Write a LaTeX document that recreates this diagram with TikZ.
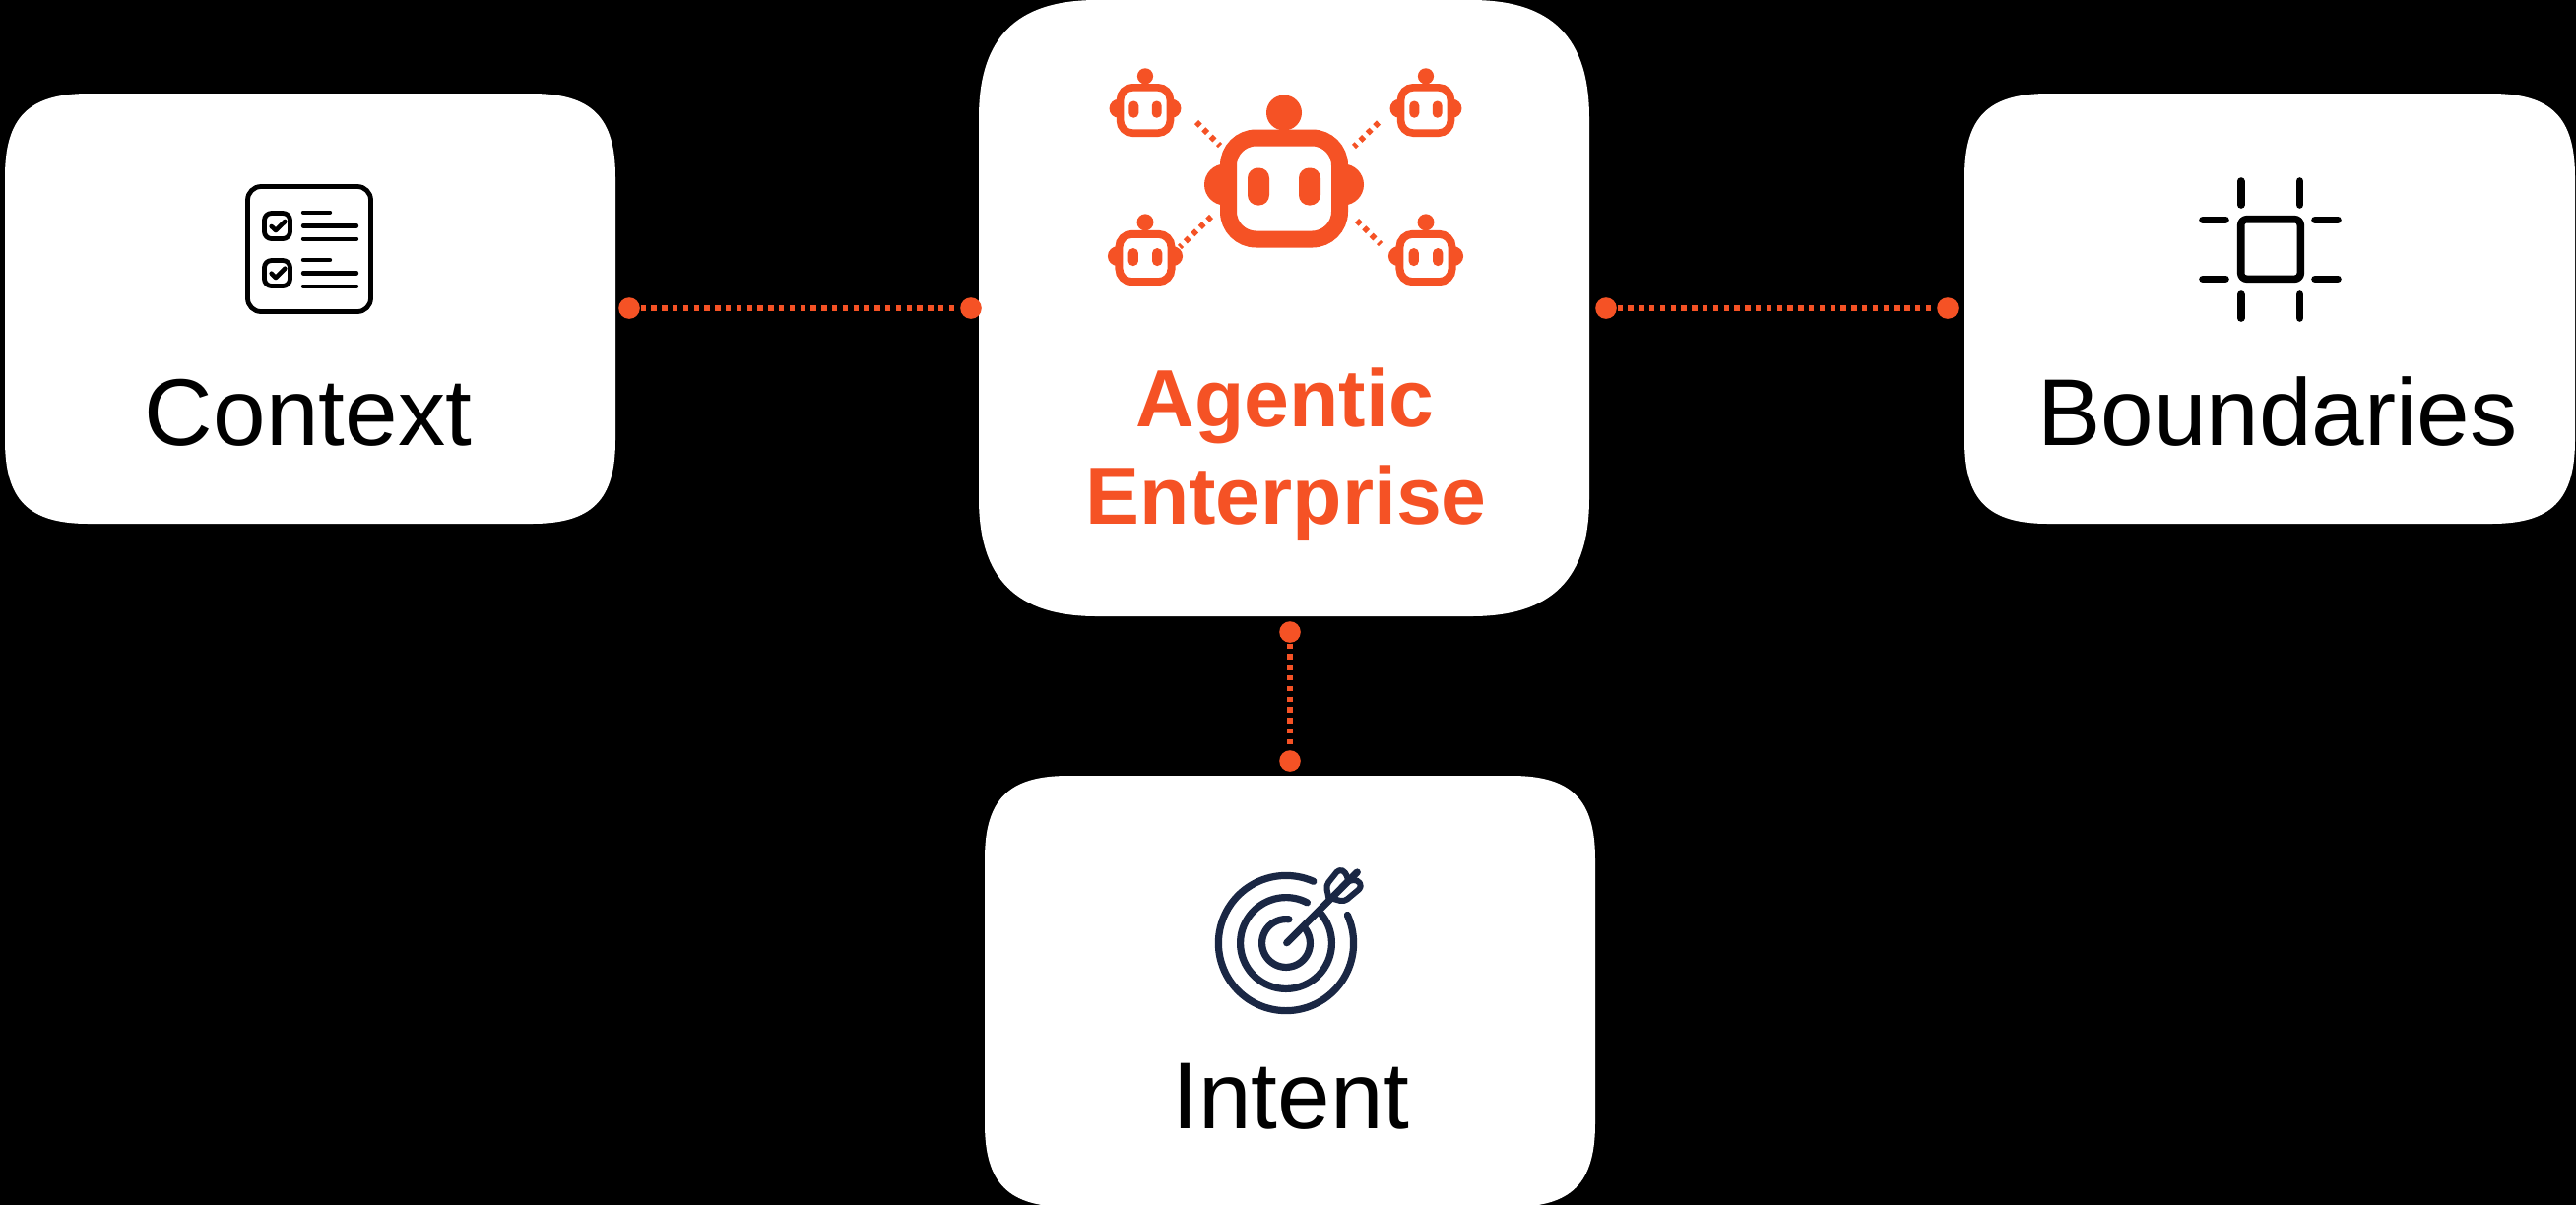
\documentclass[tikz,border=0pt]{standalone}
\usepackage{fontspec}
\setmainfont{Liberation Sans}
\definecolor{accent}{HTML}{F55225}
\definecolor{navy}{HTML}{1A2744}
\newcommand{\cardshape}[6]{%
  \fill[white] (#1,{#2+#5}) .. controls (#1,{#2+#6}) and ({#1+#6},#2) .. ({#1+#5},#2)
    -- ({#3-#5},#2) .. controls ({#3-#6},#2) and (#3,{#2+#6}) .. (#3,{#2+#5})
    -- (#3,{#4-#5}) .. controls (#3,{#4-#6}) and ({#3-#6},#4) .. ({#3-#5},#4)
    -- ({#1+#5},#4) .. controls ({#1+#6},#4) and (#1,{#4-#6}) .. (#1,{#4-#5}) -- cycle;}
\newcommand{\robotfig}[3]{%
  \pgfmathsetmacro{\rlw}{4.25*#3}%
  \pgfmathsetmacro{\rrc}{7*#3}%
  \pgfmathsetmacro{\rec}{2.6*#3}%
  \begin{scope}[shift={(#1,#2)},scale=#3]
    \fill[accent] (-60,-4) circle[radius=21];
    \fill[accent] (60,-4) circle[radius=21];
    \fill[accent] (0,-77) circle[radius=18];
    \draw[accent,fill=white,line width=\rlw pt,rounded corners=\rrc pt] (-56.5,-51.5) rectangle (56.5,51.5);
    \fill[accent,rounded corners=\rec pt] (-37,-21) rectangle (-15,17);
    \fill[accent,rounded corners=\rec pt] (15,-21) rectangle (37,17);
  \end{scope}}
\tikzset{
  x=0.25pt,y=-0.25pt,
  dotnode/.style={circle,fill=accent,inner sep=0pt,minimum size=5.4pt},
  link/.style={accent,line width=1.45pt,dash pattern=on 1.35pt off 1.35pt},
  minilink/.style={accent,line width=1.45pt,dash pattern=on 1.3pt off 1.3pt},
  plainlabel/.style={anchor=base,inner sep=0pt,text=black,font=\fontsize{24.1}{28}\selectfont},
  boldlabel/.style={anchor=base,inner sep=0pt,text=accent,font=\fontsize{20.6}{24}\selectfont\bfseries},
  ink/.style={black,line width=#1,line cap=round,line join=round},
  target/.style={navy,line width=1.8pt,line cap=round,line join=round}
}
\begin{document}
\begin{tikzpicture}
\useasboundingbox (0,0) rectangle (2616,1224);
\fill[black] (0,0) rectangle (2616,1224);
% cards
\cardshape{5}{95}{625}{532}{85}{24}
\cardshape{994}{0}{1614}{626}{120}{38}
\cardshape{1995}{95}{2615}{532}{85}{24}
\cardshape{1000}{788}{1620}{1226}{85}{24}
% labels
\node[plainlabel] (ctx) at (313,452) {Context};
\node[plainlabel] (bnd) at (2313,452) {Boundaries};
\node[plainlabel] (int) at (1311,1146) {Intent};
\node[boldlabel] (ag) at (1305,433) {Agentic};
\node[boldlabel] (en) at (1306,532) {Enterprise};
% connector dots
\node[dotnode] (d1) at (639,313) {};
\node[dotnode] (d2) at (986,313) {};
\node[dotnode] (d3) at (1631,313) {};
\node[dotnode] (d4) at (1978,313) {};
\node[dotnode] (d5) at (1310,642) {};
\node[dotnode] (d6) at (1310,773) {};
\draw[link] (d1) -- (d2);
\draw[link] (d3) -- (d4);
\draw[link] (d5) -- (d6);
% robots
\robotfig{1304}{191.5}{1}
\robotfig{1163}{112}{0.45}
\robotfig{1448}{112}{0.45}
\robotfig{1163}{262}{0.47}
\robotfig{1448}{262}{0.47}
\coordinate (a1) at (1215,124); \coordinate (b1) at (1239,148);
\coordinate (a2) at (1400,124.5); \coordinate (b2) at (1375,149);
\coordinate (a3) at (1230,220); \coordinate (b3) at (1198,251);
\coordinate (a4) at (1378,224); \coordinate (b4) at (1402,248);
\draw[minilink] (a1) -- (b1);
\draw[minilink] (a2) -- (b2);
\draw[minilink] (a3) -- (b3);
\draw[minilink] (a4) -- (b4);
% checklist icon
\draw[ink=1.2pt,rounded corners=3.4pt] (251.5,189.5) rectangle (376.5,316.5);
\draw[ink=1.2pt,rounded corners=1.8pt] (268.5,216.5) rectangle (294.5,242.5);
\draw[ink=1.2pt,rounded corners=1.8pt] (268.5,264.5) rectangle (294.5,290.5);
\draw[ink=1.15pt] (275.7,230) -- (280,234) -- (289.3,225);
\draw[ink=1.15pt] (275.7,277.7) -- (280,282) -- (289.3,272.7);
\draw[ink=1.1pt] (308,215.7) -- (335,215.7);
\draw[ink=1.1pt] (308,229.3) -- (362,229.3);
\draw[ink=1.1pt] (308,242.7) -- (362,242.7);
\draw[ink=1.1pt] (308,264) -- (335,264);
\draw[ink=1.1pt] (308,277.3) -- (362,277.3);
\draw[ink=1.1pt] (308,290.7) -- (362,290.7);
% boundaries icon
\draw[ink=1.9pt,rounded corners=1.5pt] (2275.7,222.7) rectangle (2336.3,283.3);
\draw[ink=1.9pt] (2275.7,184) -- (2275.7,208);
\draw[ink=1.9pt] (2335.4,184) -- (2335.4,208);
\draw[ink=1.9pt] (2275.7,299) -- (2275.7,323);
\draw[ink=1.9pt] (2335.4,299) -- (2335.4,323);
\draw[ink=1.9pt] (2237,223.3) -- (2260,223.3);
\draw[ink=1.9pt] (2351,223.3) -- (2374,223.3);
\draw[ink=1.9pt] (2237,283.3) -- (2260,283.3);
\draw[ink=1.9pt] (2351,283.3) -- (2374,283.3);
% target icon
\begin{scope}[shift={(1306,958)}]
  \draw[target] plot[domain=-66:-384.6,samples=120] (\x:68.6);
  \draw[target] plot[domain=-62.5:-400,samples=120] (\x:46.4);
  \draw[target] plot[domain=-83:-398,samples=90] (\x:24.4);
\end{scope}
\draw[target] (1306.7,957.7) -- (1369.3,895);
\draw[target] (1369.3,895) -- (1378.3,886);
\draw[target,rounded corners=1pt,line width=1.5pt] (1349.3,911.7) -- (1346.7,899.3) -- (1360,882.7) -- (1366.7,886) -- (1369.3,895);
\draw[target,rounded corners=1pt,line width=1.5pt] (1349.3,911.7) -- (1365,916) -- (1383.3,900.7) -- (1378.3,893.3) -- (1369.3,895);
\end{tikzpicture}
\end{document}
